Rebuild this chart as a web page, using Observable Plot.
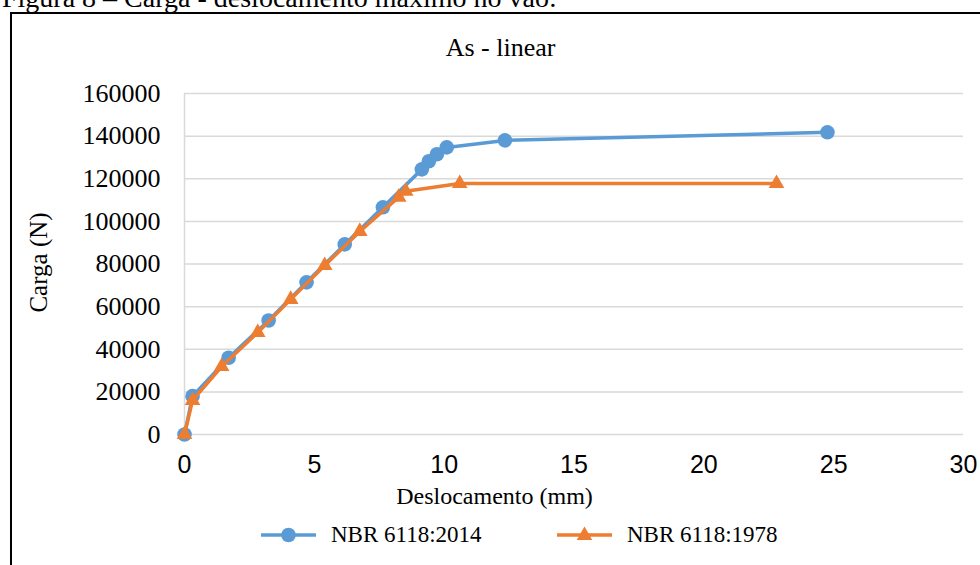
<!DOCTYPE html>
<html>
<head>
<meta charset="utf-8">
<script src="https://cdn.jsdelivr.net/npm/d3@7"></script>
<script src="https://cdn.jsdelivr.net/npm/@observablehq/plot@0.6"></script>
<style>
  html, body { margin: 0; padding: 0; background: #fff; overflow: hidden; }
  #wrap { position: relative; width: 980px; height: 565px; overflow: hidden; }
  #caption { position: absolute; left: 2px; top: -16px; font: 28px "Liberation Serif", "Times New Roman", serif; line-height: 28px; white-space: nowrap; color: #000; }
  #frame { position: absolute; left: 10px; top: 12px; width: 1000px; height: 600px; border-left: 2px solid #000; border-top: 2px solid #000; }
  #chart { position: absolute; left: 0; top: 0; }
  .legend { position: absolute; top: 522px; height: 26px; display: flex; align-items: center; font: 23px "Liberation Serif", "Times New Roman", serif; color: #000; white-space: nowrap; }
  .legend svg { display: block; margin-right: 15px; }
</style>
</head>
<body>
<div id="wrap">
  <div id="caption">Figura 8 – Carga - deslocamento máximo no vão:</div>
  <div id="frame"></div>
  <div id="chart"></div>
  <div class="legend" id="leg1" style="left:261px"></div>
  <div class="legend" id="leg2" style="left:557px"></div>
</div>
<script>
// Data
const seriesNames = ["NBR 6118:2014", "NBR 6118:1978"];
const seriesColors = ["#5B9BD5", "#ED7D31"];
const disp2014 = [0, 0.31, 1.70, 3.24, 4.70, 6.17, 7.64, 9.14, 9.41, 9.72, 10.10, 12.34, 24.76];
const load2014 = [0, 18000, 36000, 53500, 71400, 89200, 106600, 124400, 128200, 131500, 134700, 138000, 141800];
const disp1978 = [0, 0.31, 1.43, 2.82, 4.09, 5.40, 6.75, 8.25, 8.52, 10.60, 22.80];
const load1978 = [0, 16000, 31900, 47900, 63400, 79300, 95300, 111300, 114100, 117800, 117800];
const xTicks = [0, 5, 10, 15, 20, 25, 30];
const yTicks = [0, 20000, 40000, 60000, 80000, 100000, 120000, 140000, 160000];
const chartTitle = "As - linear";
const xTitle = "Deslocamento (mm)";
const yTitle = "Carga (N)";

const d2014 = disp2014.map((x, i) => ({x, y: load2014[i]}));
const d1978 = disp1978.map((x, i) => ({x, y: load1978[i]}));

const serif = "'Liberation Serif', 'Times New Roman', serif";
const sans = "'Liberation Sans', Arial, sans-serif";

const plot = Plot.plot({
  width: 980,
  height: 565,
  marginLeft: 184,
  marginRight: 17,
  marginTop: 93,
  marginBottom: 131,
  style: {background: "transparent", overflow: "visible"},
  x: {domain: [0, 30], ticks: xTicks},
  y: {domain: [0, 160000], ticks: yTicks},
  marks: [
    Plot.gridY(yTicks, {stroke: "#d9d9d9", strokeOpacity: 1, strokeWidth: 1.5}),
    Plot.ruleX([0], {stroke: "#d9d9d9", strokeWidth: 1.5}),
    Plot.axisX(xTicks, {tickSize: 0, tickPadding: 21, fontSize: 25, fontFamily: sans, label: null, tickFormat: d => String(d)}),
    Plot.axisY(yTicks, {tickSize: 0, tickPadding: 24, fontSize: 26, fontFamily: serif, label: null, tickFormat: d => String(d)}),
    Plot.line(d2014, {x: "x", y: "y", stroke: seriesColors[0], strokeWidth: 3.5, curve: "linear"}),
    Plot.dot(d2014, {x: "x", y: "y", r: 7.3, fill: seriesColors[0], stroke: "none", symbol: "circle"}),
    Plot.line(d1978, {x: "x", y: "y", stroke: seriesColors[1], strokeWidth: 3.5, curve: "linear"}),
    Plot.dot(d1978, {x: "x", y: "y", r: 5.8, fill: seriesColors[1], stroke: "none", symbol: "triangle"}),
    Plot.text([chartTitle], {text: d => d, frameAnchor: "top", textAnchor: "middle", lineAnchor: "middle", dx: -73.5, dy: -46, fontSize: 26, fontFamily: serif, fill: "#000"}),
    Plot.text([xTitle], {text: d => d, frameAnchor: "bottom", textAnchor: "middle", lineAnchor: "middle", dx: -79.5, dy: 62, fontSize: 24, fontFamily: serif, fill: "#000"}),
    Plot.text([yTitle], {text: d => d, frameAnchor: "left", textAnchor: "middle", lineAnchor: "middle", rotate: -90, dx: -146, dy: -1.5, fontSize: 25, fontFamily: serif, fill: "#000"})
  ]
});
document.getElementById("chart").appendChild(plot);

// Legend
function swatch(color, kind) {
  const svg = d3.create("svg").attr("width", 55).attr("height", 20);
  svg.append("line").attr("x1", 0).attr("x2", 55).attr("y1", 10).attr("y2", 10)
    .attr("stroke", color).attr("stroke-width", 3.5);
  if (kind === "circle") {
    svg.append("circle").attr("cx", 27.5).attr("cy", 10).attr("r", 7.3).attr("fill", color);
  } else {
    svg.append("path").attr("transform", "translate(27.5,10.5)")
      .attr("d", d3.symbol(d3.symbolTriangle, 5.8 * 5.8 * Math.PI)()).attr("fill", color);
  }
  return svg.node();
}
const leg1 = document.getElementById("leg1");
leg1.appendChild(swatch(seriesColors[0], "circle"));
leg1.appendChild(document.createTextNode(seriesNames[0]));
const leg2 = document.getElementById("leg2");
leg2.appendChild(swatch(seriesColors[1], "triangle"));
leg2.appendChild(document.createTextNode(seriesNames[1]));
</script>
</body>
</html>
